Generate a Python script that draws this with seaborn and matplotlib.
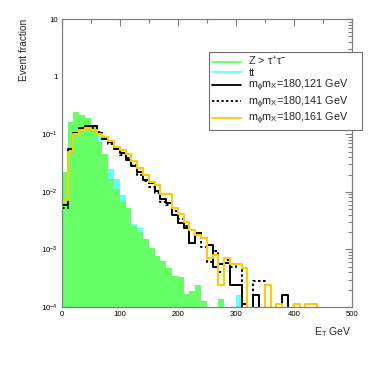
import numpy as np
import pandas as pd
import seaborn as sns
import matplotlib.pyplot as plt
import matplotlib.ticker as ticker
from matplotlib.lines import Line2D


sns.set_theme(style='white')
plt.rcParams['font.family'] = ['Liberation Sans', 'DejaVu Sans']
plt.rcParams['mathtext.fontset'] = 'custom'
plt.rcParams['mathtext.rm'] = 'Liberation Sans'
plt.rcParams['mathtext.it'] = 'Liberation Sans'


# bins of 10 GeV, 0 - 500
centers = np.arange(5, 500, 10)

ztautau = [0.022, 0.16, 0.24, 0.22, 0.19, 0.14, 0.072, 0.046, 0.017, 0.011,
           0.0068, 0.0053, 0.0026, 0.0020, 0.00155, 0.00105, 0.00077, 0.00062, 0.00047, 0.00034,
           0.00033, 0.00017, 0.00019, 0.00024, 0.000125, 0, 0, 0.00014, 0, 0,
           0, 0, 0, 0, 0, 0, 0, 0, 0, 0,
           0, 0, 0, 0, 0, 0, 0, 0, 0, 0]

ttbar = [0.012, 0.07, 0.13, 0.16, 0.16, 0.13, 0.11, 0.04, 0.025, 0.017,
         0.0087, 0.0045, 0.0028, 0.0024, 0.0012, 0.0008, 0.0006, 0.0004, 0.0003, 0.0002,
         0.0002, 0.00012, 0.00012, 0.0002, 0.0001, 0, 0, 0, 0, 0,
         0.00016, 0, 0, 0, 0, 0, 0, 0, 0, 0,
         0, 0, 0, 0, 0, 0, 0, 0, 0, 0]

sig_121 = [0.006, 0.055, 0.105, 0.13, 0.14, 0.14, 0.105, 0.083, 0.072, 0.056,
           0.048, 0.036, 0.028, 0.022, 0.016, 0.014, 0.0105, 0.0076, 0.0063, 0.0039,
           0.0029, 0.0024, 0.0013, 0.0019, 0.0016, 0.0012, 0.0005, 0.00055, 0.00058, 0.00024,
           0.00024, 0.000115, 0, 0.00016, 0, 0, 0, 0, 0.00016, 0,
           0, 0, 0, 0, 0, 0, 0, 0, 0, 0]

sig_141 = [0.0053, 0.05, 0.10, 0.125, 0.135, 0.13, 0.11, 0.085, 0.068, 0.055,
           0.044, 0.038, 0.029, 0.020, 0.0155, 0.012, 0.0095, 0.0068, 0.0058, 0.0046,
           0.0034, 0.0026, 0.0013, 0.0019, 0.0011, 0.0006, 0.00095, 0.0004, 0.00065, 0.0005,
           0.00055, 0, 0, 0.00028, 0.00028, 0, 0, 0, 0, 0,
           0, 0, 0, 0, 0, 0, 0, 0, 0, 0]

sig_161 = [0.0071, 0.05, 0.10, 0.12, 0.13, 0.12, 0.10, 0.09, 0.077, 0.06,
           0.053, 0.045, 0.034, 0.026, 0.020, 0.015, 0.013, 0.0093, 0.0092, 0.0052,
           0.0041, 0.0030, 0.0022, 0.0018, 0.0016, 0.0007, 0.0008, 0.00024, 0.00072, 0.00057,
           0.00057, 0.00047, 0, 0, 0, 0.00024, 0, 0.000115, 0, 0,
           0.000115, 0, 0.000115, 0.000115, 0, 0, 0, 0, 0, 0]

labels = ['Z > τ$^{+}$τ$^{-}$', 'tt',
          r'm$_{\phi}$m$_{X}$=180,121 GeV',
          r'm$_{\phi}$m$_{X}$=180,141 GeV',
          r'm$_{\phi}$m$_{X}$=180,161 GeV']

green = '#66ff66'
cyan = '#66ffff'
orange = '#ffcc00'

df = pd.DataFrame({'E': centers, 'ztautau': ztautau, 'ttbar': ttbar,
                   'sig_121': sig_121, 'sig_141': sig_141, 'sig_161': sig_161})


fig = plt.figure(figsize=(3.82, 3.66), dpi=100)
ax = fig.add_axes([0.162, 0.161, 0.759, 0.787])
ax.set_yscale('log')

hist_kw = dict(data=df, x='E', binwidth=10, binrange=(0, 500), element='step', ax=ax)

# filled backgrounds
sns.histplot(weights='ttbar', fill=True, color=cyan, alpha=1, linewidth=0, **hist_kw)
sns.histplot(weights='ztautau', fill=True, color=green, alpha=1, linewidth=0, **hist_kw)

# signal outlines
sns.histplot(weights='sig_121', fill=False, color='black', linewidth=1.4, **hist_kw)
sns.histplot(weights='sig_141', fill=False, color='black', linewidth=1.4,
             linestyle=(0, (1.3, 1.3)), **hist_kw)
sns.histplot(weights='sig_161', fill=False, color=orange, linewidth=1.5, **hist_kw)

ax.set_xlim(0, 500)
ax.set_ylim(1e-4, 10)

ax.set_yticks([1e-4, 1e-3, 1e-2, 1e-1, 1, 10])
ax.set_yticklabels(['10$^{-4}$', '10$^{-3}$', '10$^{-2}$', '10$^{-1}$', '1', '10'])
ax.yaxis.set_minor_locator(ticker.LogLocator(base=10, subs=np.arange(2, 10), numticks=20))
ax.yaxis.set_minor_formatter(ticker.NullFormatter())
ax.set_xticks([0, 100, 200, 300, 400, 500])
ax.xaxis.set_minor_locator(ticker.MultipleLocator(50))

ax.tick_params(which='both', direction='in', top=True, right=True, color='#808080',
               labelsize=5.6, labelcolor='black')
ax.tick_params(which='major', length=5, width=0.8)
ax.tick_params(which='minor', length=2.6, width=0.8)
ax.tick_params(axis='y', pad=3)
ax.tick_params(axis='x', pad=2.5)

for s in ax.spines.values():
    s.set_color('#808080')
    s.set_linewidth(0.9)

ax.set_xlabel('E$_{T}$ GeV', loc='right', fontsize=7.5)
ax.xaxis.set_label_coords(1.0, -0.064)
ax.set_ylabel('Event fraction', loc='top', fontsize=7.3)
ax.yaxis.set_label_coords(-0.112, 1.0)

handles = [Line2D([], [], color=green, lw=1.3),
           Line2D([], [], color=cyan, lw=1.3),
           Line2D([], [], color='black', lw=1.3),
           Line2D([], [], color='black', lw=1.3, linestyle=(0, (1.3, 1.3))),
           Line2D([], [], color=orange, lw=1.3)]
leg = ax.legend(handles, labels, loc='upper left', bbox_to_anchor=(0.547, 0.65, 0.400, 0.208),
                bbox_transform=fig.transFigure, mode='expand', fontsize=7.8, frameon=True,
                fancybox=False, framealpha=1, edgecolor='#707070', borderaxespad=0,
                borderpad=0.25, handlelength=2.7, handletextpad=0.7, labelspacing=0.0)
leg.get_frame().set_linewidth(0.8)

fig.savefig('out.png', dpi=100)
